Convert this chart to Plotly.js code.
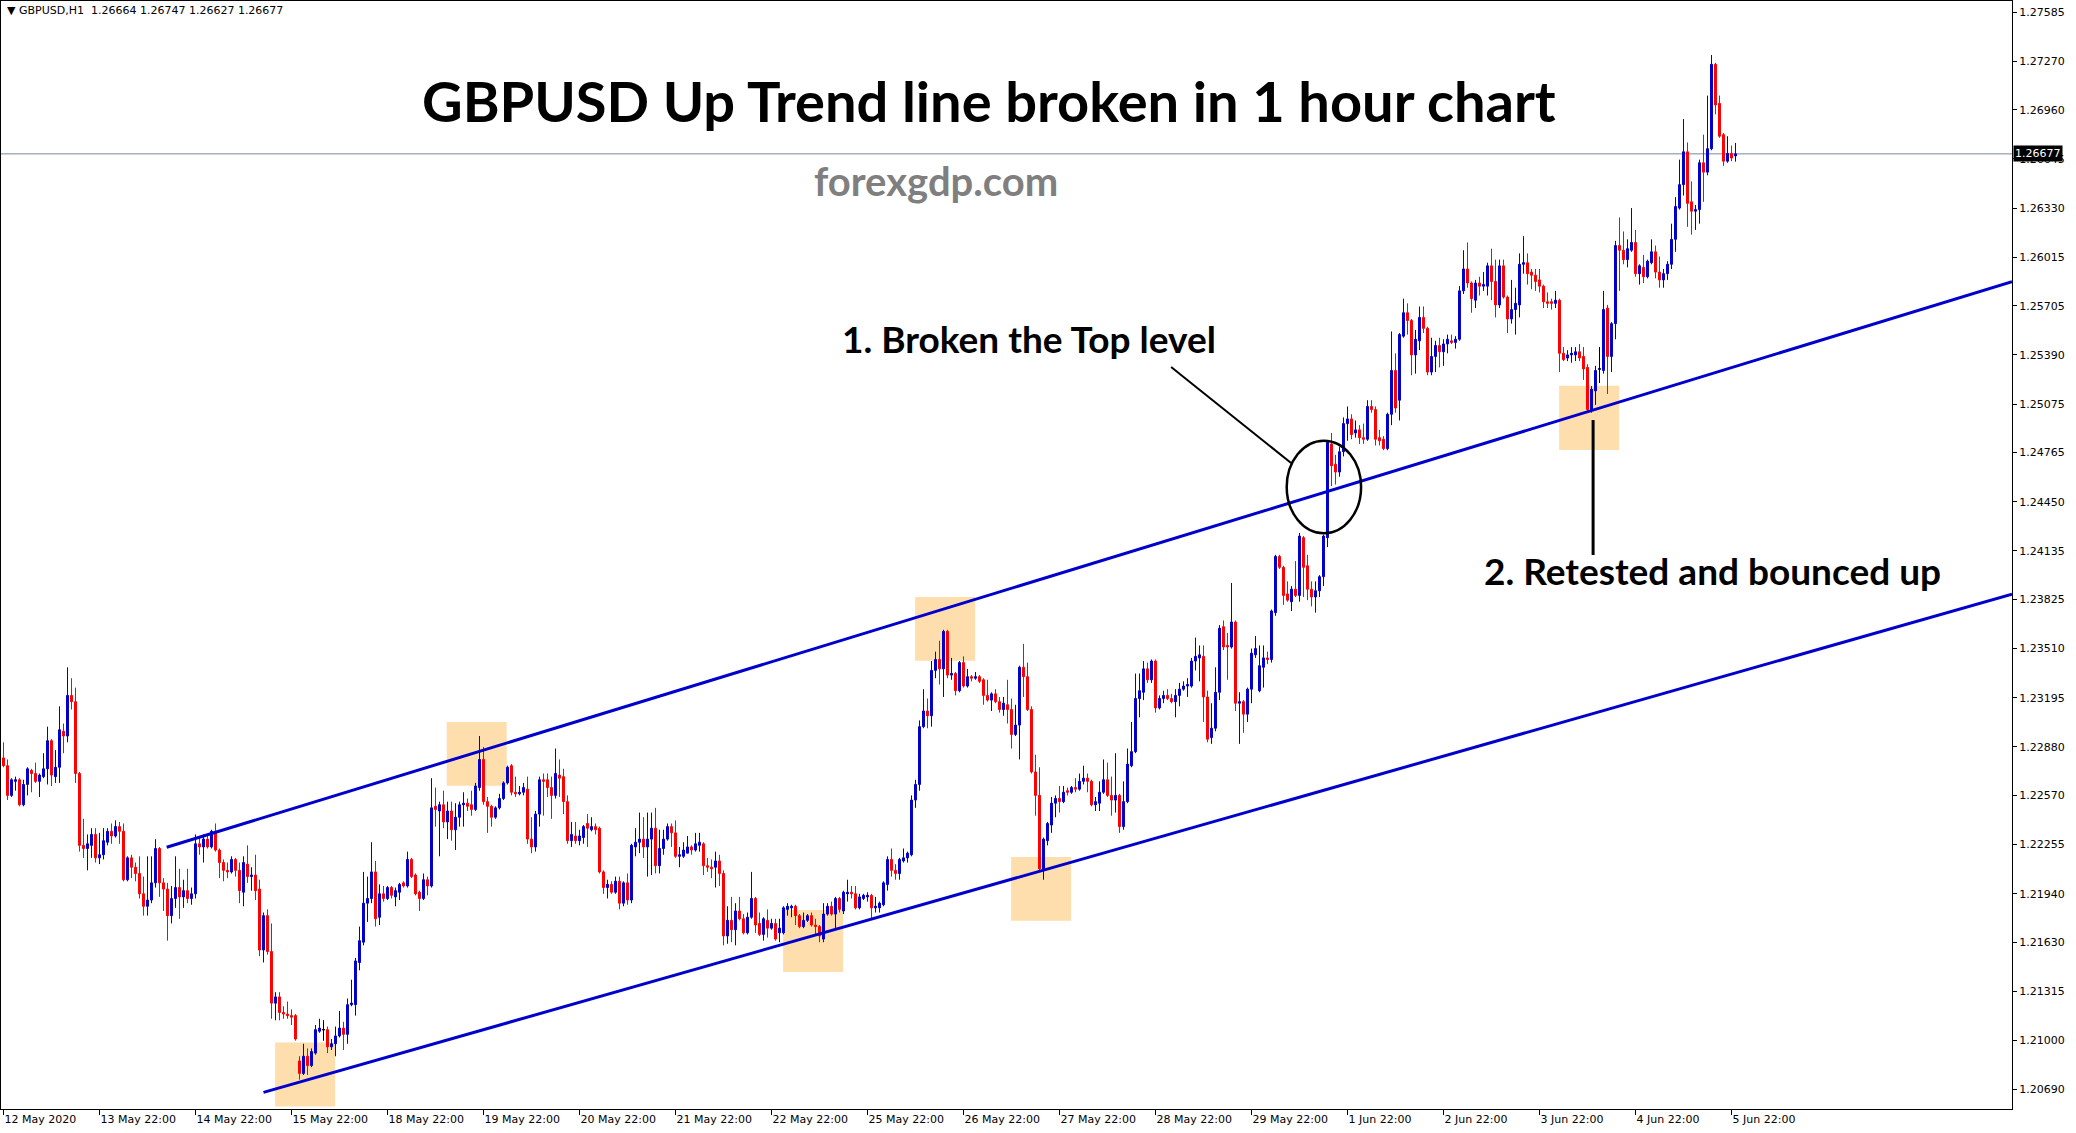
<!DOCTYPE html>
<html><head><meta charset="utf-8">
<script src="https://cdn.plot.ly/plotly-3.0.1.min.js"></script>
<style>html,body{margin:0;padding:0;background:#fff;overflow:hidden}#chart{width:2076px;height:1133px}</style>
</head><body><div id="chart"></div>
<script>
const symbolName = 'GBPUSD,H1';
const chartTitle = 'GBPUSD Up Trend line broken in 1 hour chart';
const siteName = 'forexgdp.com';
const note1 = '1. Broken the Top level';
const note2 = '2. Retested and bounced up';

const dayLabels = ['12 May 2020','13 May 22:00','14 May 22:00','15 May 22:00','18 May 22:00','19 May 22:00','20 May 22:00','21 May 22:00','22 May 22:00','25 May 22:00','26 May 22:00','27 May 22:00','28 May 22:00','29 May 22:00','1 Jun 22:00','2 Jun 22:00','3 Jun 22:00','4 Jun 22:00','5 Jun 22:00'];
const barsPerDay = 24;
const priceTicks = [1.27585,1.27270,1.26960,1.26645,1.26330,1.26015,1.25705,1.25390,1.25075,1.24765,1.24450,1.24135,1.23825,1.23510,1.23195,1.22880,1.22570,1.22255,1.21940,1.21630,1.21315,1.21000,1.20690];

const openPx = [1.2281,1.2276,1.2257,1.2266,1.2267,1.2251,1.2264,1.2273,1.2271,1.2266,
1.2269,1.2274,1.2292,1.2269,1.2275,1.2298,1.2295,1.2321,1.2317,1.2271,
1.2225,1.2223,1.2225,1.2232,1.2217,1.2219,1.2227,1.2234,1.2231,1.2237,
1.2234,1.2203,1.2217,1.2211,1.2207,1.2194,1.2186,1.2190,1.2201,1.2223,
1.2201,1.2197,1.2180,1.2191,1.2198,1.2192,1.2196,1.2191,1.2194,1.2226,
1.2224,1.2229,1.2224,1.2234,1.2222,1.2214,1.2209,1.2208,1.2216,1.2209,
1.2195,1.2213,1.2205,1.2206,1.2197,1.2158,1.2180,1.2157,1.2124,1.2128,
1.2118,1.2117,1.2116,1.2116,1.2087,1.2079,1.2090,1.2084,1.2092,1.2106,
1.2107,1.2107,1.2096,1.2098,1.2103,1.2108,1.2104,1.2123,1.2123,1.2150,
1.2163,1.2188,1.2191,1.2208,1.2179,1.2194,1.2191,1.2198,1.2192,1.2195,
1.2201,1.2199,1.2216,1.2206,1.2195,1.2191,1.2203,1.2199,1.2250,1.2247,
1.2251,1.2240,1.2247,1.2235,1.2243,1.2251,1.2252,1.2251,1.2248,1.2262,
1.2280,1.2253,1.2250,1.2243,1.2249,1.2255,1.2265,1.2276,1.2259,1.2258,
1.2259,1.2261,1.2229,1.2224,1.2245,1.2267,1.2267,1.2262,1.2257,1.2270,
1.2269,1.2253,1.2228,1.2231,1.2228,1.2230,1.2239,1.2235,1.2237,1.2236,
1.2208,1.2198,1.2200,1.2195,1.2202,1.2188,1.2201,1.2190,1.2224,1.2227,
1.2229,1.2224,1.2229,1.2236,1.2212,1.2223,1.2229,1.2237,1.2233,1.2218,
1.2218,1.2220,1.2224,1.2222,1.2225,1.2226,1.2212,1.2211,1.2211,1.2215,
1.2207,1.2167,1.2177,1.2171,1.2183,1.2178,1.2169,1.2179,1.2191,1.2175,
1.2168,1.2177,1.2172,1.2175,1.2169,1.2169,1.2184,1.2185,1.2186,1.2180,
1.2173,1.2177,1.2180,1.2174,1.2173,1.2165,1.2181,1.2186,1.2181,1.2191,
1.2183,1.2194,1.2195,1.2194,1.2185,1.2191,1.2192,1.2193,1.2185,1.2185,
1.2187,1.2200,1.2216,1.2209,1.2207,1.2215,1.2217,1.2219,1.2254,1.2264,
1.2301,1.2311,1.2308,1.2337,1.2344,1.2338,1.2362,1.2334,1.2335,1.2324,
1.2342,1.2327,1.2333,1.2332,1.2333,1.2331,1.2321,1.2318,1.2322,1.2317,
1.2312,1.2315,1.2312,1.2296,1.2302,1.2339,1.2333,1.2312,1.2272,1.2257,
1.2210,1.2228,1.2238,1.2252,1.2255,1.2253,1.2260,1.2259,1.2262,1.2261,
1.2266,1.2268,1.2266,1.2251,1.2252,1.2259,1.2267,1.2257,1.2254,1.2257,
1.2237,1.2253,1.2276,1.2285,1.2319,1.2323,1.2338,1.2331,1.2343,1.2313,
1.2319,1.2321,1.2319,1.2317,1.2321,1.2325,1.2327,1.2327,1.2343,1.2345,
1.2346,1.2320,1.2294,1.2300,1.2323,1.2365,1.2353,1.2352,1.2368,1.2316,
1.2317,1.2309,1.2325,1.2347,1.2324,1.2339,1.2345,1.2344,1.2374,1.2410,
1.2403,1.2386,1.2381,1.2389,1.2385,1.2422,1.2404,1.2389,1.2384,1.2388,
1.2397,1.2422,1.2482,1.2469,1.2464,1.2477,1.2495,1.2498,1.2489,1.2491,
1.2486,1.2485,1.2506,1.2504,1.2486,1.2485,1.2479,1.2501,1.2529,1.2510,
1.2551,1.2566,1.2561,1.2539,1.2548,1.2563,1.2556,1.2528,1.2538,1.2545,
1.2541,1.2546,1.2548,1.2547,1.2549,1.2580,1.2594,1.2585,1.2574,1.2585,
1.2583,1.2583,1.2596,1.2586,1.2571,1.2596,1.2576,1.2562,1.2568,1.2571,
1.2597,1.2598,1.2592,1.2590,1.2587,1.2583,1.2573,1.2573,1.2572,1.2574,
1.2540,1.2537,1.2539,1.2539,1.2541,1.2538,1.2531,1.2504,1.2516,1.2530,
1.2529,1.2569,1.2538,1.2559,1.2609,1.2606,1.2600,1.2606,1.2611,1.2591,
1.2595,1.2589,1.2598,1.2605,1.2592,1.2587,1.2591,1.2597,1.2613,1.2633,
1.2648,1.2669,1.2637,1.2631,1.2632,1.2662,1.2656,1.2671,1.2725,1.2700,
1.2680,1.2663,1.2668,1.26664];

const highPx = [1.2291,1.2280,1.2268,1.2269,1.2268,1.2267,1.2275,1.2274,1.2278,1.2271,
1.2284,1.2301,1.2293,1.2286,1.2314,1.2303,1.2339,1.2332,1.2326,1.2272,
1.2242,1.2232,1.2236,1.2236,1.2233,1.2236,1.2236,1.2239,1.2241,1.2240,
1.2239,1.2218,1.2219,1.2214,1.2218,1.2205,1.2218,1.2218,1.2229,1.2224,
1.2204,1.2201,1.2199,1.2218,1.2210,1.2203,1.2210,1.2198,1.2232,1.2231,
1.2232,1.2232,1.2235,1.2239,1.2223,1.2216,1.2214,1.2218,1.2217,1.2214,
1.2218,1.2225,1.2211,1.2219,1.2203,1.2182,1.2184,1.2175,1.2131,1.2131,
1.2122,1.2125,1.2120,1.2117,1.2090,1.2098,1.2095,1.2095,1.2110,1.2114,
1.2113,1.2109,1.2101,1.2109,1.2119,1.2112,1.2127,1.2139,1.2153,1.2173,
1.2208,1.2205,1.2227,1.2215,1.2200,1.2199,1.2199,1.2199,1.2198,1.2201,
1.2202,1.2221,1.2217,1.2207,1.2196,1.2207,1.2205,1.2268,1.2262,1.2253,
1.2260,1.2253,1.2253,1.2252,1.2253,1.2259,1.2255,1.2260,1.2265,1.2295,
1.2288,1.2256,1.2251,1.2250,1.2258,1.2266,1.2276,1.2277,1.2269,1.2263,
1.2265,1.2269,1.2243,1.2247,1.2269,1.2271,1.2271,1.2269,1.2287,1.2280,
1.2274,1.2257,1.2240,1.2240,1.2235,1.2238,1.2245,1.2243,1.2239,1.2237,
1.2209,1.2203,1.2202,1.2205,1.2205,1.2202,1.2207,1.2226,1.2236,1.2246,
1.2243,1.2246,1.2246,1.2249,1.2235,1.2235,1.2239,1.2239,1.2241,1.2224,
1.2227,1.2231,1.2225,1.2233,1.2233,1.2227,1.2217,1.2216,1.2221,1.2219,
1.2209,1.2186,1.2192,1.2188,1.2192,1.2181,1.2182,1.2208,1.2192,1.2182,
1.2179,1.2184,1.2178,1.2178,1.2178,1.2186,1.2188,1.2187,1.2187,1.2181,
1.2182,1.2181,1.2182,1.2178,1.2174,1.2188,1.2188,1.2189,1.2192,1.2192,
1.2196,1.2203,1.2199,1.2199,1.2194,1.2194,1.2195,1.2194,1.2192,1.2189,
1.2202,1.2218,1.2223,1.2213,1.2217,1.2223,1.2221,1.2257,1.2267,1.2305,
1.2325,1.2319,1.2343,1.2349,1.2356,1.2363,1.2363,1.2345,1.2336,1.2343,
1.2346,1.2338,1.2334,1.2336,1.2334,1.2332,1.2331,1.2323,1.2325,1.2320,
1.2320,1.2331,1.2319,1.2315,1.2340,1.2354,1.2342,1.2314,1.2283,1.2275,
1.2230,1.2240,1.2256,1.2257,1.2263,1.2263,1.2262,1.2263,1.2268,1.2271,
1.2276,1.2271,1.2267,1.2256,1.2266,1.2280,1.2278,1.2269,1.2284,1.2258,
1.2266,1.2287,1.2304,1.2335,1.2335,1.2343,1.2342,1.2344,1.2344,1.2321,
1.2324,1.2325,1.2322,1.2325,1.2329,1.2330,1.2332,1.2345,1.2358,1.2353,
1.2353,1.2324,1.2316,1.2339,1.2366,1.2369,1.2361,1.2393,1.2369,1.2323,
1.2318,1.2326,1.2351,1.2359,1.2353,1.2353,1.2349,1.2376,1.2411,1.2411,
1.2404,1.2394,1.2391,1.2407,1.2425,1.2423,1.2411,1.2394,1.2394,1.2398,
1.2424,1.2484,1.2489,1.2475,1.2480,1.2499,1.2506,1.2501,1.2497,1.2494,
1.2495,1.2510,1.2510,1.2506,1.2491,1.2487,1.2502,1.2554,1.2540,1.2553,
1.2575,1.2572,1.2562,1.2555,1.2570,1.2570,1.2557,1.2550,1.2548,1.2550,
1.2549,1.2552,1.2552,1.2551,1.2583,1.2606,1.2611,1.2586,1.2587,1.2589,
1.2592,1.2598,1.2607,1.2600,1.2600,1.2600,1.2577,1.2587,1.2582,1.2604,
1.2615,1.2604,1.2594,1.2594,1.2594,1.2584,1.2579,1.2575,1.2580,1.2575,
1.2544,1.2542,1.2544,1.2544,1.2546,1.2544,1.2533,1.2519,1.2532,1.2544,
1.2580,1.2571,1.2560,1.2612,1.2627,1.2618,1.2613,1.2633,1.2619,1.2597,
1.2603,1.2600,1.2613,1.2609,1.2602,1.2594,1.2599,1.2623,1.2640,1.2664,
1.2690,1.2675,1.2650,1.2635,1.2664,1.2680,1.2705,1.2731,1.2726,1.2705,
1.2681,1.2679,1.2673,1.26747];

const lowPx = [1.2275,1.2254,1.2256,1.2260,1.2250,1.2250,1.2257,1.2259,1.2265,1.2256,
1.2268,1.2264,1.2263,1.2265,1.2265,1.2284,1.2291,1.2312,1.2265,1.2221,
1.2217,1.2209,1.2217,1.2214,1.2213,1.2216,1.2225,1.2226,1.2230,1.2226,
1.2202,1.2202,1.2204,1.2202,1.2191,1.2180,1.2180,1.2188,1.2198,1.2192,
1.2183,1.2164,1.2175,1.2185,1.2178,1.2185,1.2188,1.2187,1.2191,1.2219,
1.2214,1.2223,1.2223,1.2221,1.2204,1.2202,1.2204,1.2207,1.2205,1.2188,
1.2186,1.2201,1.2196,1.2190,1.2154,1.2150,1.2155,1.2114,1.2113,1.2113,
1.2114,1.2114,1.2110,1.2100,1.2075,1.2078,1.2078,1.2083,1.2091,1.2105,
1.2100,1.2092,1.2094,1.2090,1.2102,1.2094,1.2098,1.2122,1.2116,1.2145,
1.2161,1.2176,1.2188,1.2173,1.2174,1.2189,1.2190,1.2191,1.2186,1.2190,
1.2198,1.2198,1.2204,1.2193,1.2183,1.2190,1.2193,1.2198,1.2237,1.2218,
1.2236,1.2229,1.2228,1.2222,1.2237,1.2237,1.2247,1.2244,1.2247,1.2260,
1.2251,1.2233,1.2237,1.2242,1.2248,1.2254,1.2264,1.2257,1.2256,1.2257,
1.2257,1.2226,1.2220,1.2221,1.2237,1.2244,1.2256,1.2242,1.2255,1.2256,
1.2245,1.2226,1.2224,1.2226,1.2225,1.2226,1.2224,1.2234,1.2232,1.2207,
1.2194,1.2191,1.2194,1.2194,1.2184,1.2186,1.2187,1.2188,1.2218,1.2220,
1.2217,1.2205,1.2206,1.2207,1.2207,1.2219,1.2228,1.2224,1.2217,1.2211,
1.2217,1.2220,1.2219,1.2221,1.2221,1.2206,1.2208,1.2204,1.2198,1.2199,
1.2161,1.2162,1.2163,1.2161,1.2177,1.2168,1.2168,1.2178,1.2169,1.2167,
1.2164,1.2166,1.2171,1.2164,1.2163,1.2168,1.2180,1.2179,1.2174,1.2172,
1.2172,1.2176,1.2173,1.2167,1.2163,1.2163,1.2180,1.2180,1.2172,1.2182,
1.2181,1.2189,1.2191,1.2184,1.2184,1.2190,1.2189,1.2178,1.2182,1.2182,
1.2186,1.2196,1.2205,1.2203,1.2203,1.2214,1.2214,1.2218,1.2249,1.2260,
1.2300,1.2300,1.2301,1.2332,1.2328,1.2320,1.2332,1.2331,1.2321,1.2323,
1.2326,1.2326,1.2330,1.2331,1.2329,1.2315,1.2317,1.2311,1.2316,1.2310,
1.2308,1.2303,1.2287,1.2295,1.2280,1.2320,1.2311,1.2271,1.2244,1.2209,
1.2203,1.2225,1.2233,1.2243,1.2246,1.2252,1.2257,1.2258,1.2259,1.2260,
1.2264,1.2259,1.2250,1.2247,1.2247,1.2258,1.2256,1.2244,1.2246,1.2233,
1.2235,1.2252,1.2275,1.2284,1.2307,1.2318,1.2329,1.2329,1.2310,1.2312,
1.2316,1.2318,1.2316,1.2307,1.2314,1.2324,1.2320,1.2326,1.2337,1.2330,
1.2304,1.2291,1.2290,1.2298,1.2318,1.2350,1.2331,1.2351,1.2311,1.2290,
1.2297,1.2304,1.2316,1.2345,1.2323,1.2326,1.2341,1.2342,1.2372,1.2402,
1.2379,1.2381,1.2375,1.2384,1.2381,1.2384,1.2382,1.2378,1.2374,1.2384,
1.2391,1.2416,1.2455,1.2456,1.2461,1.2474,1.2484,1.2485,1.2486,1.2482,
1.2482,1.2484,1.2502,1.2481,1.2481,1.2478,1.2478,1.2494,1.2502,1.2497,
1.2550,1.2552,1.2526,1.2527,1.2542,1.2553,1.2526,1.2526,1.2528,1.2531,
1.2532,1.2540,1.2546,1.2543,1.2548,1.2578,1.2582,1.2566,1.2569,1.2577,
1.2580,1.2577,1.2574,1.2563,1.2569,1.2575,1.2553,1.2559,1.2552,1.2563,
1.2591,1.2584,1.2581,1.2580,1.2579,1.2569,1.2569,1.2568,1.2569,1.2528,
1.2535,1.2535,1.2534,1.2535,1.2535,1.2523,1.2503,1.2502,1.2507,1.2521,
1.2527,1.2514,1.2528,1.2549,1.2580,1.2597,1.2595,1.2605,1.2589,1.2584,
1.2585,1.2588,1.2597,1.2588,1.2582,1.2582,1.2587,1.2594,1.2605,1.2632,
1.2641,1.2621,1.2616,1.2619,1.2623,1.2637,1.2654,1.2670,1.2693,1.2678,
1.2660,1.2662,1.2663,1.26627];

const closePx = [1.2276,1.2257,1.2267,1.2267,1.2251,1.2264,1.2274,1.2271,1.2266,1.2270,
1.2274,1.2292,1.2270,1.2275,1.2299,1.2295,1.2321,1.2317,1.2271,1.2225,
1.2223,1.2226,1.2232,1.2217,1.2219,1.2228,1.2234,1.2231,1.2237,1.2234,
1.2203,1.2217,1.2211,1.2207,1.2194,1.2186,1.2190,1.2201,1.2223,1.2201,
1.2197,1.2180,1.2191,1.2198,1.2192,1.2196,1.2191,1.2194,1.2226,1.2224,
1.2229,1.2224,1.2234,1.2222,1.2214,1.2209,1.2208,1.2216,1.2209,1.2196,
1.2214,1.2205,1.2206,1.2196,1.2158,1.2180,1.2157,1.2124,1.2128,1.2118,
1.2117,1.2116,1.2115,1.2101,1.2079,1.2090,1.2084,1.2093,1.2107,1.2108,
1.2107,1.2096,1.2098,1.2103,1.2108,1.2104,1.2123,1.2124,1.2151,1.2164,
1.2188,1.2191,1.2208,1.2178,1.2194,1.2191,1.2198,1.2193,1.2196,1.2200,
1.2199,1.2216,1.2205,1.2194,1.2191,1.2203,1.2199,1.2249,1.2248,1.2251,
1.2240,1.2247,1.2235,1.2243,1.2251,1.2252,1.2250,1.2248,1.2263,1.2280,
1.2253,1.2250,1.2243,1.2249,1.2255,1.2265,1.2275,1.2259,1.2258,1.2259,
1.2262,1.2229,1.2224,1.2245,1.2267,1.2266,1.2262,1.2257,1.2271,1.2268,
1.2253,1.2228,1.2232,1.2228,1.2231,1.2237,1.2236,1.2237,1.2235,1.2208,
1.2198,1.2200,1.2195,1.2202,1.2188,1.2201,1.2190,1.2225,1.2227,1.2229,
1.2224,1.2229,1.2236,1.2212,1.2223,1.2229,1.2237,1.2233,1.2218,1.2219,
1.2222,1.2224,1.2222,1.2226,1.2227,1.2212,1.2211,1.2210,1.2215,1.2207,
1.2167,1.2177,1.2171,1.2183,1.2178,1.2169,1.2179,1.2191,1.2174,1.2168,
1.2178,1.2172,1.2175,1.2165,1.2172,1.2185,1.2186,1.2186,1.2180,1.2173,
1.2177,1.2180,1.2174,1.2173,1.2167,1.2181,1.2186,1.2181,1.2191,1.2184,
1.2195,1.2195,1.2194,1.2185,1.2192,1.2193,1.2193,1.2185,1.2186,1.2188,
1.2201,1.2216,1.2209,1.2207,1.2216,1.2217,1.2220,1.2254,1.2264,1.2301,
1.2311,1.2308,1.2337,1.2344,1.2338,1.2362,1.2334,1.2335,1.2324,1.2342,
1.2327,1.2333,1.2332,1.2333,1.2330,1.2321,1.2318,1.2322,1.2317,1.2312,
1.2316,1.2312,1.2296,1.2302,1.2339,1.2333,1.2312,1.2272,1.2257,1.2210,
1.2229,1.2239,1.2252,1.2255,1.2253,1.2259,1.2259,1.2262,1.2261,1.2266,
1.2268,1.2266,1.2251,1.2253,1.2259,1.2267,1.2257,1.2254,1.2257,1.2237,
1.2253,1.2277,1.2285,1.2319,1.2324,1.2338,1.2331,1.2343,1.2313,1.2319,
1.2321,1.2319,1.2317,1.2321,1.2325,1.2327,1.2328,1.2343,1.2346,1.2347,
1.2320,1.2293,1.2300,1.2323,1.2364,1.2352,1.2352,1.2368,1.2316,1.2317,
1.2309,1.2325,1.2348,1.2351,1.2340,1.2345,1.2344,1.2375,1.2410,1.2403,
1.2385,1.2382,1.2389,1.2385,1.2423,1.2403,1.2389,1.2384,1.2388,1.2397,
1.2423,1.2483,1.2468,1.2464,1.2477,1.2495,1.2498,1.2488,1.2491,1.2486,
1.2485,1.2506,1.2504,1.2485,1.2484,1.2479,1.2501,1.2529,1.2505,1.2552,
1.2566,1.2561,1.2539,1.2549,1.2563,1.2556,1.2528,1.2538,1.2545,1.2541,
1.2546,1.2549,1.2547,1.2549,1.2580,1.2594,1.2585,1.2575,1.2585,1.2583,
1.2584,1.2596,1.2586,1.2571,1.2596,1.2576,1.2562,1.2568,1.2572,1.2597,
1.2598,1.2591,1.2590,1.2586,1.2583,1.2573,1.2572,1.2572,1.2574,1.2540,
1.2536,1.2539,1.2540,1.2541,1.2537,1.2530,1.2504,1.2517,1.2529,1.2530,
1.2568,1.2538,1.2559,1.2609,1.2606,1.2600,1.2607,1.2611,1.2591,1.2596,
1.2589,1.2599,1.2605,1.2592,1.2587,1.2591,1.2597,1.2613,1.2634,1.2648,
1.2669,1.2636,1.2631,1.2632,1.2662,1.2656,1.2671,1.2725,1.2699,1.2679,
1.2663,1.2668,1.2665,1.26677];

// annotation geometry (bar index, price)
const upperTrend = {x0: 40.8, y0: 1.22238, x1: 502.125, y1: 1.25859};
const lowerTrend = {x0: 65.0, y0: 1.20669, x1: 502.125, y1: 1.23858};
const zones = [
  [67.9, 82.9, 1.20578, 1.20988],
  [110.8, 125.8, 1.22632, 1.23040],
  [194.9, 209.9, 1.21439, 1.21836],
  [227.9, 242.9, 1.23432, 1.23840],
  [251.9, 266.9, 1.21768, 1.22175],
  [388.9, 403.9, 1.24781, 1.25193]
];
const breakCircle = {x0: 320.8, x1: 339.4, y0: 1.24248, y1: 1.24841};
const pointer1 = {x0: 291.9, y0: 1.25312, x1: 321.9, y1: 1.24698};
const pointer2 = {x0: 397.4, y0: 1.24973, x1: 397.4, y1: 1.24109};

const n = closePx.length;
const barIdx = closePx.map((_, i) => i);
const last = n - 1;
const lastPrice = closePx[last];

const BULL = '#0000CD', BEAR = '#FF0000';
const traces = [{
  type: 'candlestick', x: barIdx, open: openPx, high: highPx, low: lowPx, close: closePx,
  increasing: {line: {color: BULL, width: 1}, fillcolor: BULL},
  decreasing: {line: {color: BEAR, width: 1}, fillcolor: BEAR},
  whiskerwidth: 0, hoverinfo: 'skip', showlegend: false
}];
// doji bars (open == close) are drawn black in MT4
const dx = [], dy = [];
barIdx.filter(i => openPx[i] === closePx[i]).forEach(i => {
  dx.push(i, i, null, i - 0.4, i + 0.4, null);
  dy.push(lowPx[i], highPx[i], null, openPx[i], openPx[i], null);
});
if (dx.length) traces.push({type: 'scatter', mode: 'lines', x: dx, y: dy, line: {color: '#000', width: 1}, hoverinfo: 'skip', showlegend: false});

const shapes = [];
zones.forEach(z => shapes.push({type: 'rect', xref: 'x', yref: 'y', x0: z[0], x1: z[1], y0: z[2], y1: z[3], fillcolor: '#FFDEAD', line: {width: 0}, layer: 'below'}));
shapes.push({type: 'line', xref: 'paper', yref: 'y', x0: 0, x1: 1, y0: lastPrice, y1: lastPrice, line: {color: '#778899', width: 1}, layer: 'below'});
[upperTrend, lowerTrend].forEach(t => shapes.push({type: 'line', xref: 'x', yref: 'y', x0: t.x0, y0: t.y0, x1: t.x1, y1: t.y1, line: {color: '#0000CD', width: 3}, layer: 'above'}));
shapes.push({type: 'circle', xref: 'x', yref: 'y', x0: breakCircle.x0, x1: breakCircle.x1, y0: breakCircle.y0, y1: breakCircle.y1, line: {color: '#000', width: 2.5}, layer: 'above'});
shapes.push({type: 'line', xref: 'x', yref: 'y', x0: pointer1.x0, y0: pointer1.y0, x1: pointer1.x1, y1: pointer1.y1, line: {color: '#000', width: 2}, layer: 'above'});
shapes.push({type: 'line', xref: 'x', yref: 'y', x0: pointer2.x0, y0: pointer2.y0, x1: pointer2.x1, y1: pointer2.y1, line: {color: '#000', width: 3}, layer: 'above'});

const boldFont = 'Lato, "Open Sans", sans-serif';
const axisFont = {family: '"DejaVu Sans", sans-serif', size: 11, color: '#000'};
const hdr = '\u25BC ' + symbolName + '\u00a0\u00a0' + [openPx[last], highPx[last], lowPx[last], closePx[last]].map(v => v.toFixed(5)).join(' ');

const annotations = [
  {xref: 'paper', yref: 'paper', x: 0.002, y: 0.999, xanchor: 'left', yanchor: 'top', text: hdr, showarrow: false, font: axisFont},
  {xref: 'paper', yref: 'paper', x: 0.4913, y: 0.9100, xanchor: 'center', yanchor: 'middle', text: '<b>' + chartTitle + '</b>', showarrow: false, font: {family: boldFont, size: 56, color: '#000'}},
  {xref: 'paper', yref: 'paper', x: 0.4649, y: 0.8375, xanchor: 'center', yanchor: 'middle', text: '<b>' + siteName + '</b>', showarrow: false, font: {family: boldFont, size: 40, color: '#7F7F7F'}},
  {xref: 'paper', yref: 'paper', x: 0.5112, y: 0.6955, xanchor: 'center', yanchor: 'middle', text: '<b>' + note1 + '</b>', showarrow: false, font: {family: boldFont, size: 37, color: '#000'}},
  {xref: 'paper', yref: 'paper', x: 0.8511, y: 0.4860, xanchor: 'center', yanchor: 'middle', text: '<b>' + note2 + '</b>', showarrow: false, font: {family: boldFont, size: 37, color: '#000'}},
  {xref: 'paper', yref: 'y', x: 1, xshift: 1, y: lastPrice, xanchor: 'left', yanchor: 'middle', text: lastPrice.toFixed(5), showarrow: false, bgcolor: '#000', borderpad: 1, font: {family: axisFont.family, size: 11, color: '#fff'}}
];

const layout = {
  width: 2076, height: 1133,
  margin: {l: 1, r: 64, t: 1, b: 24, pad: 0},
  paper_bgcolor: '#fff', plot_bgcolor: '#fff',
  showlegend: false, hovermode: false, dragmode: false,
  xaxis: {
    range: [-0.625, 502.125], tickvals: dayLabels.map((_, i) => i * barsPerDay), ticktext: dayLabels,
    ticks: 'outside', ticklen: 5, tickcolor: '#000', tickwidth: 1, ticklabelposition: 'outside right',
    showgrid: false, zeroline: false, showline: true, mirror: true, linecolor: '#000', linewidth: 1,
    rangeslider: {visible: false}, tickfont: axisFont, fixedrange: true
  },
  yaxis: {
    side: 'right', range: [1.205622, 1.276556], tickvals: priceTicks, ticktext: priceTicks.map(v => v.toFixed(5)),
    ticks: 'outside', ticklen: 4, tickcolor: '#000', tickwidth: 1,
    showgrid: false, zeroline: false, showline: true, mirror: true, linecolor: '#000', linewidth: 1,
    tickfont: axisFont, fixedrange: true
  },
  shapes: shapes,
  annotations: annotations
};

Plotly.newPlot('chart', traces, layout, {staticPlot: true, displayModeBar: false});
</script>
</body></html>
